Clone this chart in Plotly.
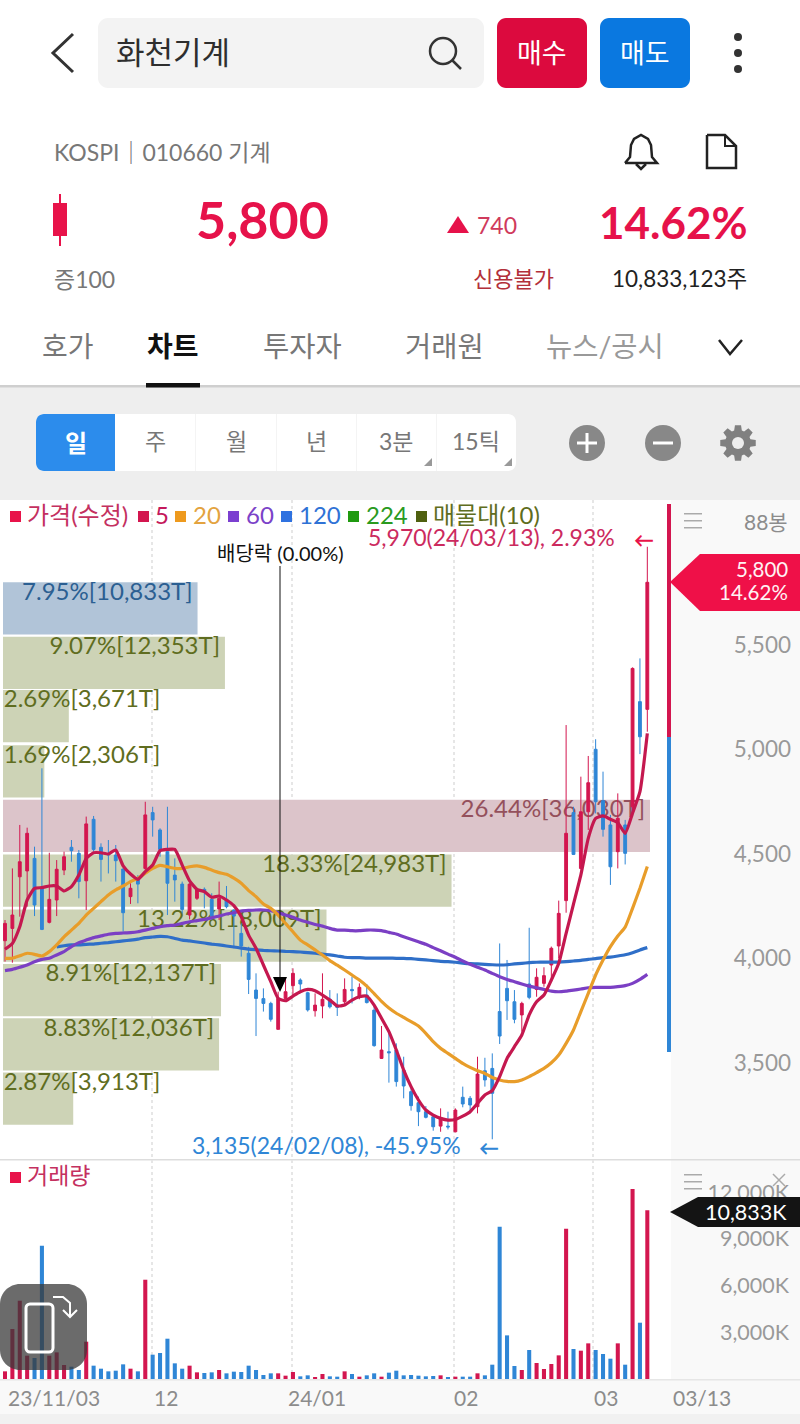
import math
import plotly.graph_objects as go

FONT = "Lato, 'Noto Sans CJK KR', sans-serif"
W, H = 800, 1424
UP = '#d3164f'
DOWN = '#2f86d6'
GRAY = '#8c8c8c'

# daily candles
opens = [4085,4144,4391,4419,4479,4336,4173,4280,4423,4532,4503,4372,4666,4532,4503,4495,4428,4296,4379,4431,4698,4615,4511,4399,4356,4208,4288,4331,4283,4237,4283,4232,4120,4025,3849,3808,3785,3661,3809,3870,3897,3836,3750,3773,3805,3777,
         3793,3852,3814,3825,3753,3522,3554,3562,3466,3363,3310,3267,3243,3198,3198,3171,3336,3331,3291,3463,3474,3746,3857,3793,3730,3878,3852,3881,3969,4060,
         4277,4698,4431,4702,5001,4755,4639,4511,4639,4726,5229,5192]
closes = [4168,4208,4463,4599,4256,4139,4283,4427,4487,4516,4368,4644,4522,4474,4495,4468,4219,4336,4356,4687,4663,4522,4360,4376,4235,4356,4328,4320,4203,4288,4248,4203,4060,3900,3809,3785,3709,3809,3841,3929,3878,3754,3777,3805,3769,3766,
          3852,3846,3862,3789,3583,3562,3549,3411,3390,3296,3267,3240,3195,3238,3194,3275,3304,3299,3447,3419,3355,3629,3798,3709,3785,3814,3910,3918,4049,4216,
          4599,4498,4702,4841,4750,4618,4439,4671,4503,5388,5061,5800]
highs = [4184,4431,4639,4626,4535,4910,4506,4471,4511,4567,4519,4679,4682,4551,4567,4543,4431,4360,4399,4750,4726,4623,4726,4479,4368,4360,4336,4340,4312,4368,4347,4235,4168,4056,3929,3857,3793,3841,3905,3953,3905,3841,3833,3929,3849,3833,
         3905,3913,3881,3878,3777,3677,3642,3594,3530,3395,3339,3294,3251,3283,3267,3283,3387,3342,3530,3525,3546,4072,3993,3849,3793,4147,3953,3958,4057,4277,
         5117,4726,4870,4969,5049,4894,4687,4790,4663,5393,5436,5970]
lows = [3985,3980,4200,4248,4203,4136,4168,4203,4399,4463,4288,4232,4511,4368,4407,4368,4128,4261,4264,4423,4583,4487,4208,4272,4216,4187,4280,4240,4184,4184,4240,4049,4009,3830,3629,3746,3698,3661,3804,3817,3846,3746,3722,3714,3761,3725,
        3777,3785,3805,3785,3578,3519,3406,3387,3331,3272,3198,3235,3176,3171,3182,3168,3288,3259,3259,3387,3135,3591,3706,3690,3650,3805,3817,3865,3905,4001,
        4219,4495,4427,4615,4694,4583,4352,4431,4450,4679,4978,5085]

ma5 = [4044,4072,4152,4280,4336,4339,4347,4347,4323,4344,4399,4479,4506,4506,4500,4519,4443,4404,4379,4416,4447,4516,4522,4522,4447,4372,4331,4320,4293,4299,4280,4253,4200,4112,4049,3969,3889,3809,3798,3820,3841,3852,3846,3825,3801,3773,
       3777,3801,3817,3820,3777,3714,3650,3562,3466,3387,3323,3275,3251,3235,3227,3230,3246,3267,3307,3347,3368,3435,3522,3578,3634,3730,3793,3825,3897,3977,
       4120,4260,4400,4575,4670,4682,4666,4650,4599,4695,4798,5077]
ma20 = [4001,4001,4013,4025,4020,4012,4033,4065,4104,4136,4168,4208,4240,4272,4304,4328,4347,4368,4384,4408,4431,4446,4439,4431,4431,4439,4443,4436,4423,4411,4403,4384,4360,4325,4296,4261,4240,4208,4168,4128,4088,4065,4041,4017,3990,3968,
        3945,3921,3897,3868,3832,3795,3763,3738,3718,3698,3677,3642,3602,3570,3546,3522,3498,3479,3463,3450,3431,3419,3412,3411,3419,3435,3454,3474,3501,3538,
        3594,3658,3746,3833,3921,3993,4057,4108,4150,4240,4336,4440]
ma60 = [3942,3948,3958,3969,3985,3996,4001,4017,4033,4057,4076,4088,4100,4108,4116,4120,4122,4124,4128,4136,4144,4152,4157,4160,4168,4176,4181,4187,4195,4203,4213,4219,4227,4230,4232,4232,4229,4219,4208,4197,4184,4173,4163,4155,4144,4136,
        4136,4133,4133,4136,4136,4133,4125,4117,4104,4092,4080,4068,4052,4037,4021,4006,3988,3972,3958,3945,3929,3913,3900,3889,3878,3868,3860,3852,3844,3841,
        3844,3849,3854,3860,3862,3862,3862,3865,3870,3881,3900,3924]
ma120 = [None,None,None,None,None,None,None,4056,4061,4065,4065,4068,4069,4073,4076,4080,4084,4088,4093,4100,4103,4106,4104,4096,4088,4084,4079,4074,4069,4065,4060,4055,4050,4045,4042,4039,4037,4036,4034,4033,4031,4028,4025,4021,4017,4012,
         4006,4004,4004,4002,4002,4002,4002,4001,4001,3999,3996,3993,3990,3986,3985,3982,3978,3975,3974,3972,3970,3969,3970,3974,3977,3980,3982,3983,3983,3983,
         3985,3988,3991,3996,3999,4004,4007,4012,4018,4028,4041,4052]
volumes = [492,3210,5029,1498,1348,8560,1498,1712,899,792,578,2397,856,663,492,535,942,663,492,6377,1562,1669,2589,1006,663,856,428,385,428,578,364,471,449,856,578,257,364,364,214,449,171,235,107,321,171,150,
           492,321,150,235,364,150,407,535,235,257,214,171,193,235,86,150,150,150,364,235,920,9780,2803,835,578,1862,1027,642,963,1519,
           9651,1926,1819,2290,1862,1605,1305,2290,920,12198,3617,10833]

# volume profile (매물대), top band first
band_mid = [5675,5414,5160,4895,4634,4373,4110,3849,3589,3330]
band_pct = [7.95,9.07,2.69,1.69,26.44,18.33,13.22,8.91,8.83,2.87]
band_vol = ['10,833T','12,353T','3,671T','2,306T','36,030T','24,983T','18,009T','12,137T','12,036T','3,913T']
band_col = ['#b1c4d8','#cdd3b6','#cdd3b6','#cdd3b6','#dcc4ca','#cdd3b6','#cdd3b6','#cdd3b6','#cdd3b6','#cdd3b6']
band_txt = ['#2b5f92','#5f6d20','#5f6d20','#5f6d20','#94505c','#5f6d20','#5f6d20','#5f6d20','#5f6d20','#5f6d20']

price_ticks = [3500,4000,4500,5000,5500]
vol_ticks = [3000,6000,9000,12000]
vol_labels = ['3,000K','6,000K','9,000K','12,000K']
month_idx = [19.87,38.83,60.76,79.65]
month_labels = ['12','24/01','02','03']

days = list(range(len(opens)))
up = [c >= o for o, c in zip(opens, closes)]


def px(x):
    return x / W


def py(y):
    return 1 - y / H


def p(*pts):
    return ' '.join(f'{"M" if i == 0 else "L"}{px(x):.5f},{py(y):.5f}' for i, (x, y) in enumerate(pts))


shapes = []


def rect(x0, y0, x1, y1, color, layer='above'):
    shapes.append(dict(type='rect', xref='paper', yref='paper', x0=px(x0), x1=px(x1), y0=py(y0), y1=py(y1),
                       fillcolor=color, line_width=0, layer=layer))


def rrect(x0, y0, x1, y1, r, fill, line=None, lw=0, sides='all', layer='above'):
    L = r if sides in ('all', 'left') else 0
    R = r if sides in ('all', 'right') else 0
    d = (f'M{px(x0+L):.5f},{py(y0):.5f} L{px(x1-R):.5f},{py(y0):.5f} '
         f'C{px(x1-R+R*.55):.5f},{py(y0):.5f} {px(x1):.5f},{py(y0+R*.45):.5f} {px(x1):.5f},{py(y0+R):.5f} '
         f'L{px(x1):.5f},{py(y1-R):.5f} '
         f'C{px(x1):.5f},{py(y1-R*.45):.5f} {px(x1-R*.45):.5f},{py(y1):.5f} {px(x1-R):.5f},{py(y1):.5f} '
         f'L{px(x0+L):.5f},{py(y1):.5f} '
         f'C{px(x0+L*.45):.5f},{py(y1):.5f} {px(x0):.5f},{py(y1-L*.45):.5f} {px(x0):.5f},{py(y1-L):.5f} '
         f'L{px(x0):.5f},{py(y0+L):.5f} '
         f'C{px(x0):.5f},{py(y0+L*.45):.5f} {px(x0+L*.45):.5f},{py(y0):.5f} {px(x0+L):.5f},{py(y0):.5f} Z')
    shapes.append(dict(type='path', path=d, xref='paper', yref='paper', fillcolor=fill,
                       line=dict(color=line or fill, width=lw), layer=layer))


def poly(pts, fill, layer='above'):
    shapes.append(dict(type='path', path=p(*pts) + ' Z', xref='paper', yref='paper', fillcolor=fill,
                       line_width=0, layer=layer))


def stroke(pts, color, w=2):
    shapes.append(dict(type='path', path=p(*pts), xref='paper', yref='paper', line=dict(color=color, width=w)))


def circle(cx, cy, r, fill='rgba(0,0,0,0)', line=None, lw=0):
    shapes.append(dict(type='circle', xref='paper', yref='paper', x0=px(cx-r), x1=px(cx+r), y0=py(cy-r), y1=py(cy+r),
                       fillcolor=fill, line=dict(color=line or fill, width=lw)))


annots = []


def txt(x, y, s, size=21, color='#333', anchor='left', bold=False):
    annots.append(dict(x=px(x), y=py(y), xref='paper', yref='paper', text=f'<b>{s}</b>' if bold else s, showarrow=False,
                       xanchor=anchor, yanchor='middle', font=dict(size=size, color=color, family=FONT)))


# backgrounds
rect(0, 387, W, 500, '#eeeeee', 'below')
rect(0, 385, W, 387.5, '#cfcfcf', 'below')
rect(671, 500, W, 1424, '#f9f9f9', 'below')
rect(0, 1380, W, 1424, '#f9f9f9', 'below')
rect(0, 1414, W, 1424, '#f1f1f1', 'below')
rect(0, 1159, W, 1160.5, '#dddddd', 'below')
rect(0, 1379, W, 1380.5, '#e6e6e6', 'below')

# header
stroke([(73, 34), (53, 53), (73, 72)], '#333333', 3)
rrect(98, 18, 484, 88, 10, '#f3f3f3')
txt(114, 52, '화천기계', 31, '#2e2e2e')
circle(443, 51, 13, line='#333333', lw=2.5)
stroke([(452, 60), (461, 69)], '#333333', 2.5)
rrect(497, 18, 587, 88, 9, '#dc0a3e')
txt(542, 52, '매수', 27, 'white', 'center')
rrect(600, 18, 690, 88, 9, '#0a78e0')
txt(645, 52, '매도', 27, 'white', 'center')
for dy in (37, 53, 69):
    circle(738, dy, 4, '#333333')

txt(52, 152, 'KOSPI｜010660 기계', 23, '#777777')
# bell and doc icons
stroke([(625, 163), (630, 157), (631, 145), (634, 139), (641, 135), (648, 139), (651, 145), (652, 157), (657, 163), (625, 163)], '#222222', 2.5)
stroke([(636, 164), (641, 169), (646, 164)], '#222222', 2.5)
stroke([(707, 135), (725, 135), (736, 146), (736, 168), (707, 168), (707, 135)], '#222222', 2.5)
stroke([(725, 135), (725, 146), (736, 146)], '#222222', 2)
# current day candle
rect(53, 203, 67, 236, '#e8134a')
rect(59, 194, 61, 246, '#e8134a')
txt(262, 219, '5,800', 52, '#e6124a', 'center', bold=True)
poly([(458, 216), (469, 233), (447, 233)], '#e6124a')
txt(475, 225, '740', 23, '#d03a5c')
txt(750, 222, '14.62%', 44, '#e6124a', 'right', bold=True)
txt(52, 279, '증100', 23, '#777777')
txt(471, 279, '신용불가', 22, '#b3303a')
txt(749, 279, '10,833,123주', 22.5, '#222222', 'right')

# tabs
txt(68, 346, '호가', 28, '#777777', 'center')
txt(173, 346, '차트', 28, '#111111', 'center', bold=True)
txt(302, 346, '투자자', 28.5, '#777777', 'center')
txt(444, 346, '거래원', 28.5, '#777777', 'center')
txt(605, 346, '뉴스/공시', 28.5, '#999999', 'center')
stroke([(719, 340), (730, 354), (742, 340)], '#222222', 2.5)
rect(146, 383, 200, 387.5, '#111111')

# period buttons
rrect(36, 414, 516, 471, 8, 'white')
rrect(36, 414, 115, 471, 8, '#2c8cec', sides='left')
for xd in (195, 276, 356, 436):
    rect(xd, 414, xd + 1, 471, '#f4f4f4')
txt(76, 442, '일', 24, 'white', 'center', bold=True)
for cx, s in zip((155, 236, 316, 396, 476), ('주', '월', '년', '3분', '15틱')):
    txt(cx, 441, s, 23, '#777777', 'center')
poly([(432, 458), (432, 466), (424, 466)], '#999999')
poly([(512, 458), (512, 466), (504, 466)], '#999999')
circle(587, 443, 18, '#888888')
rect(577, 441.5, 597, 444.5, 'white')
rect(585.5, 433, 588.5, 453, 'white')
circle(663, 443, 18, '#888888')
rect(653, 441.5, 673, 444.5, 'white')
# gear
gear = []
for k in range(8):
    a = k * math.pi / 4
    for da, r in ((-0.30, 13), (-0.17, 18), (0.17, 18), (0.30, 13)):
        gear.append((738 + r * math.cos(a + da), 443 + r * math.sin(a + da)))
poly(gear, '#808080')
circle(738, 443, 6, '#eeeeee')

# legend row
legend_items = [(10, 25, '가격(수정)', '#e8134a', '#c4305f'), (138, 153, '5', '#d3164f', '#c4185b'),
                (175, 191, '20', '#ee9a1e', '#e3a33f'), (228, 244, '60', '#7b3fd0', '#7b42c8'),
                (281, 297, '120', '#2f72e0', '#2f72d6'), (348, 364, '224', '#1f9a10', '#2a9a1e'),
                (416, 431, '매물대(10)', '#4f6010', '#5f6d20')]
for xs, xt, s, col, tcol in legend_items:
    rect(xs, 511, xs + 11, 522, col)
    txt(xt, 514, s, 24, tcol)

# side panel marks
for yy in (513, 520, 527):
    rect(684, yy, 702, yy + 1.5, '#aaaaaa')
txt(790, 521, '88봉', 21, GRAY, 'right')
for yy in (1174, 1181, 1188):
    rect(684, yy, 702, yy + 1.5, '#aaaaaa')
stroke([(773, 1174), (785, 1186)], '#aaaaaa', 1.5)
stroke([(785, 1174), (773, 1186)], '#aaaaaa', 1.5)

# indicator bar next to the price axis
rect(667, 504, 671, 737, UP)
rect(667, 737, 671, 1052, DOWN)
# last price tags
poly([(670, 582), (700, 554), (800, 554), (800, 611), (700, 611)], '#ef1048')
txt(790, 569, '5,800', 20.5, '#fff2f4', 'right')
txt(790, 592, '14.62%', 20.5, '#fff2f4', 'right')
poly([(670, 1212), (698, 1197), (800, 1197), (800, 1227), (698, 1227)], '#141414')
txt(789, 1212, '10,833K', 21.5, 'white', 'right')

# chart notes
txt(366, 537, '5,970(24/03/13), 2.93%', 23, '#cc2a5e')
txt(632, 539, '←', 20, '#e8134a', bold=True)
txt(190, 1145, '3,135(24/02/08), -45.95%', 23, '#2f86d6')
txt(477, 1147, '←', 20, '#2f86d6', bold=True)
txt(280, 553, '배당락 (0.00%)', 20, '#111111', 'center')
stroke([(280, 566), (280, 982)], '#111111', 1)
poly([(273, 977), (287, 977), (280, 992)], '#000000')
txt(25, 1175, '거래량', 23, '#c4305f')
rect(10, 1172, 21, 1183, '#e8134a')

# bottom date labels
txt(6, 1397, '23/11/03', 21, GRAY)
txt(671, 1397, '03/13', 21, GRAY)
for xl, s in zip((152, 286, 452, 592), month_labels):
    txt(xl, 1397, s, 21, GRAY)

# rotate button over the volume panel
rrect(0, 1284, 87, 1370, 20, 'rgba(58,58,58,0.75)')
rrect(26, 1304, 53, 1352, 4, 'rgba(0,0,0,0)', 'white', 3)
stroke([(53, 1297), (63, 1297), (70, 1303), (70, 1317)], 'white', 2)
stroke([(63, 1310), (70, 1317), (77, 1310)], 'white', 2)

fig = go.Figure()

# profile bars live on the base axes so the candles draw over them
fig.add_trace(go.Bar(x=band_pct, y=band_mid, orientation='h', width=250, marker=dict(color=band_col, line_width=0),
                     xaxis='x', yaxis='y', hoverinfo='skip'))
long_i = [i for i, v in enumerate(band_pct) if v > 3]
short_i = [i for i, v in enumerate(band_pct) if v <= 3]
fig.add_trace(go.Scatter(x=[band_pct[i] - 0.2 for i in long_i], y=[band_mid[i] + 70 for i in long_i], mode='text',
                         text=[f'{band_pct[i]}%[{band_vol[i]}]' for i in long_i], textposition='middle left',
                         textfont=dict(size=24, family=FONT, color=[band_txt[i] for i in long_i]),
                         xaxis='x', yaxis='y', hoverinfo='skip', cliponaxis=False))
fig.add_trace(go.Scatter(x=[0.03] * len(short_i), y=[band_mid[i] + 70 for i in short_i], mode='text',
                         text=[f'{band_pct[i]}%[{band_vol[i]}]' for i in short_i], textposition='middle right',
                         textfont=dict(size=24, family=FONT, color=[band_txt[i] for i in short_i]),
                         xaxis='x', yaxis='y', hoverinfo='skip', cliponaxis=False))

fig.add_trace(go.Candlestick(x=days, open=opens, high=highs, low=lows, close=closes, xaxis='x2', yaxis='y',
                             whiskerwidth=0,
                             increasing=dict(line=dict(color=UP, width=1), fillcolor=UP),
                             decreasing=dict(line=dict(color=DOWN, width=1), fillcolor=DOWN)))
for vals, col in ((ma120, '#2f6fc8'), (ma60, '#7b3fc4'), (ma20, '#e89d2a'), (ma5, '#c4184f')):
    fig.add_trace(go.Scatter(x=days, y=vals, mode='lines', line=dict(color=col, width=3.2, shape='spline', smoothing=0.5),
                             xaxis='x2', yaxis='y', hoverinfo='skip'))
fig.add_trace(go.Bar(x=days, y=volumes, width=0.55, marker=dict(color=[UP if u else DOWN for u in up], line_width=0),
                     xaxis='x3', yaxis='y2', hoverinfo='skip'))

dom_x = [0, px(669)]
idx_range = [(0 - 5) / 7.383, (669 - 5) / 7.383]
grid = dict(showgrid=True, gridcolor='#e6e6e6', griddash='dot', gridwidth=1.5)
fig.update_layout(
    width=W, height=H, autosize=False,
    margin=dict(l=0, r=0, t=0, b=0),
    paper_bgcolor='white', plot_bgcolor='rgba(0,0,0,0)',
    showlegend=False, barmode='overlay', boxgap=0.45,
    font=dict(family=FONT),
    xaxis=dict(domain=dom_x, range=[-3 / 24.47, 666 / 24.47], visible=False, anchor='y'),
    xaxis2=dict(domain=dom_x, range=idx_range, overlaying='x', anchor='y', showticklabels=False, ticks='',
                zeroline=False, showline=False, rangeslider=dict(visible=False),
                tickmode='array', tickvals=month_idx, **grid),
    xaxis3=dict(domain=dom_x, range=idx_range, anchor='y2', showticklabels=False, ticks='', zeroline=False,
                showline=False, tickmode='array', tickvals=month_idx, **grid),
    yaxis=dict(domain=[py(1160), py(500)], range=[5500 - 515 / 0.209, 5500 + 145 / 0.209], anchor='free',
               position=px(794), side='right', ticklabelposition='inside', tickmode='array', tickvals=price_ticks,
               ticktext=[f'{v:,}' for v in price_ticks], tickfont=dict(size=22.5, color='#999999', family=FONT),
               showgrid=False, zeroline=False, showline=False, ticks=''),
    yaxis2=dict(domain=[py(1379), py(1160)], range=[0, 219 / 46.7 * 3000], anchor='free', position=px(792),
                side='right', ticklabelposition='inside', tickmode='array', tickvals=vol_ticks, ticktext=vol_labels,
                tickfont=dict(size=21.5, color='#999999', family=FONT), showgrid=False, zeroline=False, showline=False,
                ticks=''),
    shapes=shapes, annotations=annots,
)

# the page's default body margin would shift everything by 8px
fig.write_html("out.html", config={'displayModeBar': False}, post_script="document.body.style.margin='0';")
